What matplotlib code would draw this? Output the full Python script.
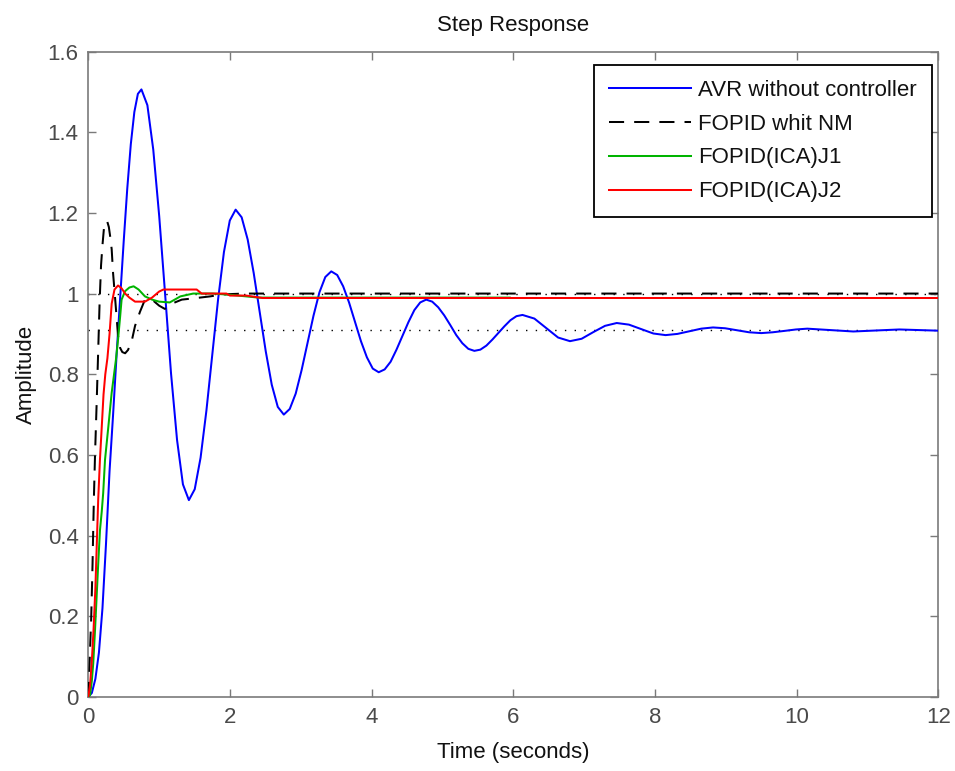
import matplotlib
matplotlib.use("Agg")
import matplotlib.pyplot as plt

plt.rcParams['font.family'] = ['Liberation Sans', 'DejaVu Sans']

# ---------------- data ----------------
t_avr = [0, 0.05, 0.1, 0.15, 0.2, 0.25, 0.3, 0.35, 0.4, 0.45, 0.5, 0.55, 0.6, 0.65, 0.7, 0.75,
         0.834, 0.917, 1.001, 1.085, 1.168, 1.253, 1.336, 1.42,
         1.5025, 1.585, 1.6675, 1.75, 1.8325, 1.915, 1.9975, 2.08,
         2.165, 2.25, 2.335, 2.42, 2.505, 2.59, 2.675, 2.76,
         2.844, 2.928, 3.011, 3.095, 3.179, 3.263, 3.346, 3.43,
         3.514, 3.598, 3.681, 3.765, 3.849, 3.933, 4.016, 4.10,
         4.184, 4.268, 4.351, 4.435, 4.519, 4.603, 4.686, 4.77,
         4.855, 4.94, 5.025, 5.11, 5.195, 5.28, 5.365, 5.45,
         5.535, 5.62, 5.705, 5.79, 5.875, 5.96, 6.045, 6.13,
         6.2975, 6.465, 6.6325, 6.80,
         6.965, 7.13, 7.295, 7.46,
         7.6325, 7.805, 7.9775, 8.15,
         8.3175, 8.485, 8.6525, 8.82,
         8.99, 9.16, 9.33, 9.5,
         9.66, 9.83, 9.99, 10.15,
         10.8, 11.45, 12.0]
y_avr = [0, 0.01, 0.045, 0.11, 0.22, 0.38, 0.56, 0.70, 0.85, 0.99, 1.13, 1.26, 1.37, 1.45, 1.495, 1.506,
         1.467, 1.357, 1.192, 0.997, 0.802, 0.637, 0.527, 0.488,
         0.515, 0.593, 0.710, 0.848, 0.986, 1.103, 1.181, 1.208,
         1.189, 1.134, 1.051, 0.954, 0.857, 0.774, 0.719, 0.700,
         0.714, 0.752, 0.810, 0.8775, 0.945, 1.003, 1.041, 1.055,
         1.046, 1.018, 0.978, 0.930, 0.882, 0.842, 0.814, 0.805,
         0.812, 0.831, 0.861, 0.895, 0.929, 0.959, 0.978, 0.985,
         0.980, 0.966, 0.946, 0.922, 0.897, 0.877, 0.863, 0.858,
         0.861, 0.871, 0.886, 0.9025, 0.919, 0.934, 0.944, 0.947,
         0.938, 0.9145, 0.891, 0.882,
         0.888, 0.9045, 0.920, 0.927,
         0.923, 0.912, 0.901, 0.897,
         0.900, 0.9065, 0.913, 0.916,
         0.914, 0.909, 0.904, 0.902,
         0.904, 0.9075, 0.911, 0.913,
         0.906, 0.911, 0.908]

t_nm = [0, 0.01, 0.025, 0.04, 0.05, 0.06, 0.07, 0.08, 0.095, 0.12, 0.14, 0.16, 0.18, 0.2, 0.22,
        0.24, 0.265, 0.29, 0.31, 0.33, 0.35, 0.38, 0.40, 0.42, 0.45, 0.48, 0.52, 0.56, 0.61, 0.66,
        0.73, 0.80, 0.9, 1.0, 1.08, 1.18, 1.32, 1.48, 1.72, 1.9, 2.2, 12.0]
y_nm = [0, 0.04, 0.12, 0.19, 0.26, 0.33, 0.42, 0.5, 0.6, 0.74, 0.86, 0.98, 1.07, 1.12, 1.16,
        1.175, 1.18, 1.165, 1.14, 1.11, 1.05, 0.985, 0.94, 0.895, 0.865, 0.855, 0.852, 0.86, 0.88, 0.92,
        0.955, 0.985, 0.985, 0.97, 0.962, 0.975, 0.985, 0.988, 0.993, 0.998, 1.0, 1.0]

t_j1 = [0, 0.025, 0.05, 0.07, 0.095, 0.118, 0.14, 0.165, 0.19, 0.21, 0.236, 0.283, 0.33, 0.39,
        0.42, 0.45, 0.47, 0.52, 0.58, 0.64, 0.71, 0.8, 0.9, 1.0, 1.15, 1.3, 1.48, 1.76, 2.0, 2.4, 5.95]
y_j1 = [0, 0.005, 0.04, 0.084, 0.166, 0.25, 0.33, 0.414, 0.46, 0.505, 0.588, 0.67, 0.754, 0.836,
        0.886, 0.944, 0.985, 1.006, 1.015, 1.018, 1.01, 0.993, 0.985, 0.98, 0.978, 0.993, 1.0, 1.0, 0.997, 0.99, 0.99]

t_j2 = [0, 0.025, 0.05, 0.075, 0.1, 0.12, 0.14, 0.165, 0.19, 0.215, 0.24, 0.27, 0.3, 0.33, 0.37,
        0.42, 0.47, 0.52, 0.58, 0.66, 0.8, 0.9, 1.0, 1.06, 1.53, 1.6, 1.95, 2.0, 2.23, 2.46, 12.0]
y_j2 = [0, 0.03, 0.09, 0.17, 0.27, 0.38, 0.49, 0.59, 0.67, 0.75, 0.80, 0.84, 0.9, 0.975, 1.01,
        1.02, 1.013, 1.0, 0.99, 0.98, 0.98, 0.99, 1.005, 1.01, 1.01, 1.0, 1.0, 0.995, 0.995, 0.989, 0.989]

ss_avr = 0.909
ss_ctrl = 1.0

labels = ['AVR without controller', 'FOPID whit NM', 'FOPID(ICA)J1', 'FOPID(ICA)J2']
x_ticks = [0, 2, 4, 6, 8, 10, 12]
y_ticks = [0, 0.2, 0.4, 0.6, 0.8, 1.0, 1.2, 1.4, 1.6]
y_ticklabels = ['0', '0.2', '0.4', '0.6', '0.8', '1', '1.2', '1.4', '1.6']

# ---------------- figure ----------------
W, H = 955, 771
fig = plt.figure(figsize=(W / 100, H / 100), dpi=100)
x0, x1, ytop, ybot = 88.3, 938.3, 51.5, 697.0
ax = fig.add_axes([x0 / W, 1 - ybot / H, (x1 - x0) / W, (ybot - ytop) / H])

lw = 1.45
ax.plot([0, 12], [ss_avr, ss_avr], color='black', lw=1.0, linestyle=(0, (1, 6)), zorder=1)
ax.plot([0, 12], [ss_ctrl, ss_ctrl], color='black', lw=1.0, linestyle=(0, (1, 6)), zorder=1)
l1, = ax.plot(t_avr, y_avr, color='#0000ff', lw=lw, zorder=3)
l2, = ax.plot(t_nm, y_nm, color='black', lw=lw, dashes=(7.5, 5), zorder=4)
l3, = ax.plot(t_j1, y_j1, color='#00b400', lw=lw, zorder=5)
l4, = ax.plot(t_j2, y_j2, color='#ff0000', lw=lw, zorder=6)

ax.set_xlim(0, 12)
ax.set_ylim(0, 1.6)
ax.set_xticks(x_ticks)
ax.set_xticklabels([str(v) for v in x_ticks])
ax.set_yticks(y_ticks)
ax.set_yticklabels(y_ticklabels)

axis_col = '#7a7a7a'
label_col = '#4a4a4a'
for s in ax.spines.values():
    s.set_color(axis_col)
    s.set_linewidth(1.2)
ax.tick_params(direction='in', length=6, width=1.0, color=axis_col, labelcolor=label_col,
               labelsize=16, top=True, right=True, pad=7)

ax.set_title('Step Response', fontsize=16, color='#111111', pad=15)
ax.set_xlabel('Time (seconds)', fontsize=16, color='#111111', labelpad=10)
ax.set_ylabel('Amplitude', fontsize=16, color='#111111', labelpad=8)

leg = ax.legend([l1, l2, l3, l4], labels, loc='upper right',
                bbox_to_anchor=(0.9922, 0.9798), fontsize=16, frameon=True, fancybox=False,
                edgecolor='black', framealpha=1, handlelength=3.7, handletextpad=0.3,
                labelspacing=0.58, borderpad=0.68, borderaxespad=0)
leg.get_frame().set_linewidth(1.3)
for txt in leg.get_texts():
    txt.set_color('#111111')

fig.savefig('out.png', dpi=100)
